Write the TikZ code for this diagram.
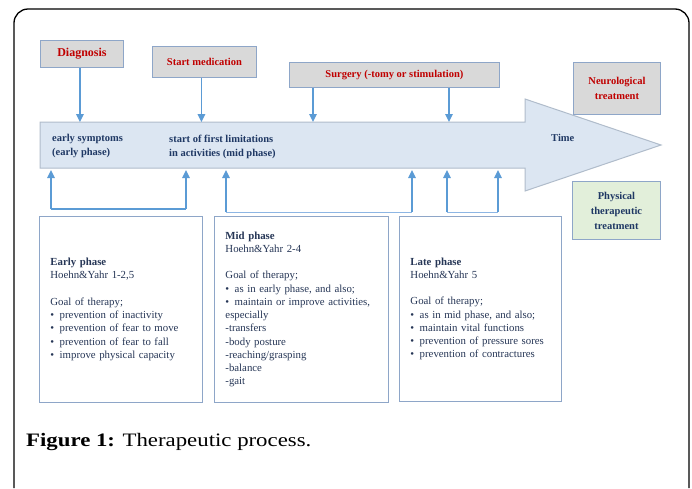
\documentclass[tikz,border=0pt]{standalone}
\usepackage{fontspec}
\setmainfont{Liberation Serif}
\newfontfamily\capfont[FakeStretch=1.2]{Liberation Serif}
\usetikzlibrary{arrows.meta}
\definecolor{arrblue}{HTML}{5B9BD5}
\definecolor{lineblue}{HTML}{8DB6E4}
\definecolor{boxedge}{HTML}{8EA6C8}
\definecolor{boxgray}{HTML}{D9D9D9}
\definecolor{boxgreen}{HTML}{E2EFDA}
\definecolor{bigfill}{HTML}{DCE6F2}
\definecolor{bigedge}{HTML}{B0BCCB}
\definecolor{redtxt}{HTML}{C00000}
\definecolor{navy}{HTML}{1F3864}
\definecolor{bodytxt}{HTML}{263656}
\begin{document}
\begin{tikzpicture}[x=1pt,y=-1pt,
  labelbox/.style={draw=boxedge, line width=0.9pt, fill=boxgray, inner sep=0pt,
    anchor=north west, font=\bfseries\fontsize{10.5}{15}\selectfont, text=redtxt, align=center},
  greenbox/.style={labelbox, fill=boxgreen, text=navy},
  phasebox/.style={draw=boxedge, line width=0.9pt, anchor=north west, inner xsep=11pt, inner ysep=0pt,
    minimum height=186pt, align=left, text=bodytxt, font=\fontsize{10.8}{13.25}\selectfont},
  arrowtxt/.style={anchor=north west, inner sep=0pt, align=left, text=navy,
    font=\bfseries\fontsize{10.5}{14}\selectfont},
  tip/.tip={Triangle[width=7.5pt,length=8pt]},
  conn/.style={draw=arrblue, line width=1.5pt, -tip},
  bar/.style={draw=lineblue, line width=1pt},
  bar2/.style={draw=arrblue, line width=1.5pt},
  frame/.style={draw=black, line width=1.3pt, rounded corners=14pt}
]
\useasboundingbox (0,0) rectangle (692,488);
\fill[white] (0,0) rectangle (692,488);
% outer frame
\draw[frame] (14,488) -- (14,9) -- (689,9) -- (689,488);

% big time arrow
\draw[fill=bigfill, draw=bigedge, line width=1pt]
  (40,122) -- (525,122) -- (525,99) -- (661,145) -- (525,191) -- (525,168) -- (40,168) -- cycle;
\coordinate (atop) at (0,122);
\coordinate (abot) at (0,170);

\node[arrowtxt] (esym) at (52,134.5) {early symptoms\\(early phase)};
\node[arrowtxt] (slim) at (169,134.5) {start of first limitations\\in activities (mid phase)};
\node[arrowtxt] (time) at (551,134.5) {Time};

% top label boxes
\node[labelbox, minimum width=83pt, minimum height=27pt, font=\bfseries\fontsize{12}{15}\selectfont] (diag) at (40,40) {Diagnosis};
\node[labelbox, minimum width=104pt, minimum height=31pt] (med) at (152,46) {Start medication};
\node[labelbox, minimum width=210pt, minimum height=25pt] (surg) at (289,62) {Surgery (-tomy or stimulation)};
\node[labelbox, minimum width=87pt, minimum height=52pt] (neuro) at (573,62) {Neurological\\treatment};
\node[greenbox, minimum width=88pt, minimum height=58pt, font=\bfseries\fontsize{10.5}{15}\selectfont] (phys) at (572,181) {Physical\\therapeutic\\treatment};

% down arrows
\draw[conn] ([xshift=-2pt]diag.south) -- ([xshift=-2pt]diag.south |- atop);
\draw[conn] ([xshift=-3pt]med.south) -- ([xshift=-3pt]med.south |- atop);
\draw[conn] ([xshift=24pt]surg.south west) -- ([xshift=24pt]surg.south west |- atop);
\draw[conn] ([xshift=160pt]surg.south west) -- ([xshift=160pt]surg.south west |- atop);

% phase boxes
\node[phasebox, minimum width=163pt, text width=141pt] (early) at (39,216) {%
\textbf{Early phase}\\
Hoehn\&Yahr 1-2,5\\[13.25pt]
Goal of therapy;\\
\textbullet\hspace{5.5pt}prevention of inactivity\\
\textbullet\hspace{5.5pt}prevention of fear to move\\
\textbullet\hspace{5.5pt}prevention of fear to fall\\
\textbullet\hspace{5.5pt}improve physical capacity};
\node[phasebox, minimum width=174pt, text width=152pt] (mid) at (214,216) {%
\textbf{Mid phase}\\
Hoehn\&Yahr 2-4\\[13.25pt]
Goal of therapy;\\
\textbullet\hspace{5.5pt}as in early phase, and also;\\
\textbullet\hspace{5.5pt}maintain or improve activities,\\
especially\\
-transfers\\
-body posture\\
-reaching/grasping\\
-balance\\
-gait};
\node[phasebox, minimum width=162pt, text width=140pt, minimum height=185pt] (late) at (399,216) {%
\textbf{Late phase}\\
Hoehn\&Yahr 5\\[13.25pt]
Goal of therapy;\\
\textbullet\hspace{5.5pt}as in mid phase, and also;\\
\textbullet\hspace{5.5pt}maintain vital functions\\
\textbullet\hspace{5.5pt}prevention of pressure sores\\
\textbullet\hspace{5.5pt}prevention of contractures};

% up brackets
\coordinate (e1) at (51,209);
\coordinate (e2) at (186,209);
\coordinate (m1) at (226,212);
\coordinate (m2) at (412,212);
\coordinate (l1) at (447,212);
\coordinate (l2) at (498,212);
\draw[bar2] (e1) -- (e2);
\draw[bar] (m1) -- (m2);
\draw[bar] (l1) -- (l2);
\foreach \p in {e1,e2,m1,m2,l1,l2}
  \draw[conn] (\p) -- (\p |- abot);

% caption
\node[anchor=base west, inner sep=0pt, font=\capfont\fontsize{19}{22}\selectfont] (cap) at (26,446)
  {\textbf{Figure 1:} Therapeutic process.};
\end{tikzpicture}
\end{document}
